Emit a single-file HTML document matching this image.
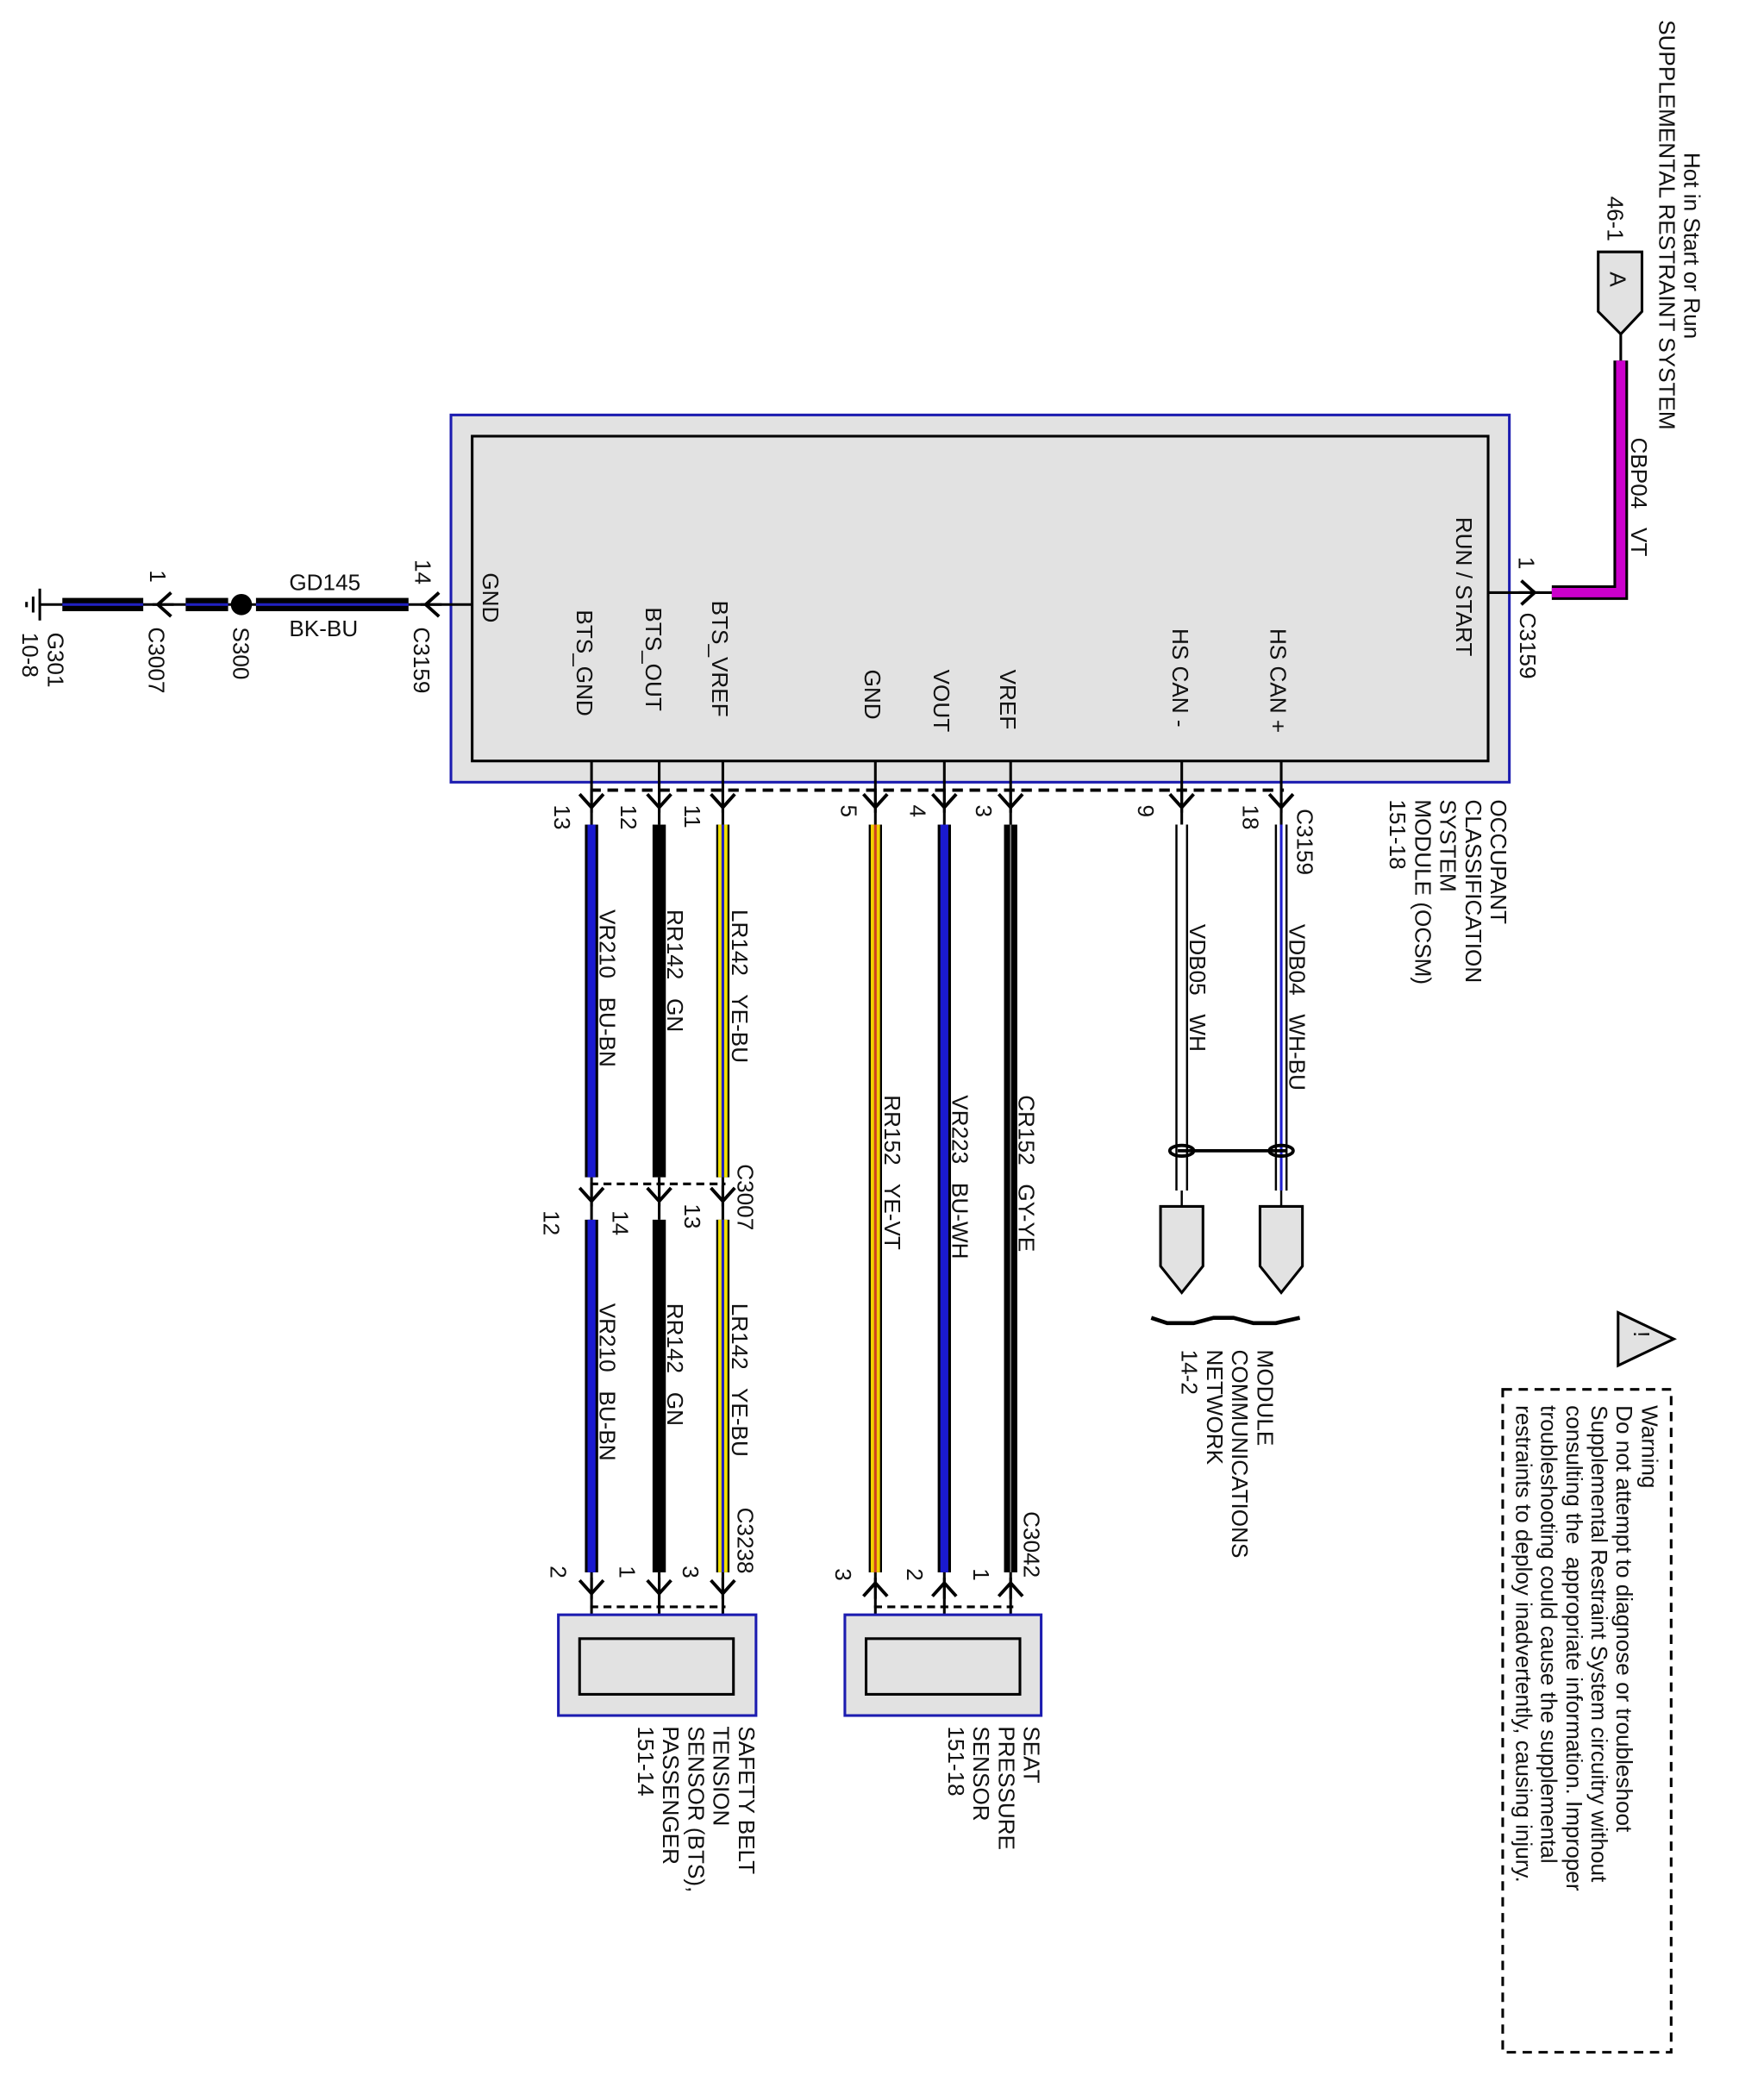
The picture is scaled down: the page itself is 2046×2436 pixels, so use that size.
<!DOCTYPE html>
<html><head><meta charset="utf-8"><style>
html,body{margin:0;padding:0;background:#fff;}
svg{display:block;}
text{font-family:"Liberation Sans",sans-serif;font-size:17px;fill:#111;white-space:pre;}
</style></head><body>
<svg width="2046" height="2436" viewBox="0 0 1330 1584" preserveAspectRatio="none" xmlns="http://www.w3.org/2000/svg">
<defs>
<g id="cd"><path d="M-9 -6 L0 4 L9 -6" fill="none" stroke="#000" stroke-width="2.5"/><line x1="0" y1="-8" x2="0" y2="8" stroke="#000" stroke-width="2"/></g>
<g id="cu"><path d="M-9 6 L0 -4 L9 6" fill="none" stroke="#000" stroke-width="2.5"/><line x1="0" y1="-8" x2="0" y2="8" stroke="#000" stroke-width="2"/></g>
</defs>

<!-- OCSM module -->
<rect x="340" y="313" width="798" height="277" fill="#e2e2e2" stroke="#1c1cb0" stroke-width="2"/>
<rect x="356" y="329" width="766" height="245" fill="#e2e2e2" stroke="#000" stroke-width="2"/>
<g>
<text transform="translate(364,432) rotate(90)">GND</text>
<text transform="translate(435,460) rotate(90)">BTS_GND</text>
<text transform="translate(487,458) rotate(90)">BTS_OUT</text>
<text transform="translate(537,453) rotate(90)">BTS_VREF</text>
<text transform="translate(652,505) rotate(90)">GND</text>
<text transform="translate(704,505) rotate(90)">VOUT</text>
<text transform="translate(754,505) rotate(90)">VREF</text>
<text transform="translate(884,474) rotate(90)">HS CAN -</text>
<text transform="translate(958,474) rotate(90)">HS CAN +</text>
<text transform="translate(1098,390) rotate(90)">RUN / START</text>
</g>

<g stroke="#000" stroke-width="2">
<line x1="446" y1="574" x2="446" y2="622"/><line x1="497" y1="574" x2="497" y2="622"/><line x1="545" y1="574" x2="545" y2="622"/>
<line x1="660" y1="574" x2="660" y2="622"/><line x1="712" y1="574" x2="712" y2="622"/><line x1="762" y1="574" x2="762" y2="622"/>
<line x1="891" y1="574" x2="891" y2="622"/><line x1="966" y1="574" x2="966" y2="622"/>
</g>
<line x1="445" y1="596" x2="968" y2="596" stroke="#000" stroke-width="2.5" stroke-dasharray="8,5"/>
<use href="#cd" x="446" y="605"/><use href="#cd" x="497" y="605"/><use href="#cd" x="545" y="605"/>
<use href="#cd" x="660" y="605"/><use href="#cd" x="712" y="605"/><use href="#cd" x="762" y="605"/>
<use href="#cd" x="891" y="605"/><use href="#cd" x="966" y="605"/>
<g>
<text transform="translate(418,607) rotate(90)">13</text>
<text transform="translate(468,607) rotate(90)">12</text>
<text transform="translate(516,607) rotate(90)">11</text>
<text transform="translate(634,607) rotate(90)">5</text>
<text transform="translate(686,607) rotate(90)">4</text>
<text transform="translate(736,607) rotate(90)">3</text>
<text transform="translate(858,607) rotate(90)">9</text>
<text transform="translate(937,607) rotate(90)">18</text>
<text transform="translate(978,610) rotate(90)">C3159</text>
<text transform="translate(1124,603) rotate(90)">OCCUPANT</text>
<text transform="translate(1105,603) rotate(90)">CLASSIFICATION</text>
<text transform="translate(1086,603) rotate(90)">SYSTEM</text>
<text transform="translate(1067,603) rotate(90)">MODULE (OCSM)</text>
<text transform="translate(1048,603) rotate(90)">151-18</text>
</g>

<g>
<rect x="441" y="622" width="10" height="266" fill="#000"/><rect x="443" y="622" width="6" height="266" fill="#1a1ad0"/>
<rect x="492" y="622" width="10" height="266" fill="#000"/>
<rect x="540" y="622" width="10" height="266" fill="#000"/><rect x="541.5" y="622" width="7" height="266" fill="#f0e000"/><rect x="544" y="622" width="2" height="266" fill="#2020c0"/>
<rect x="441" y="920" width="10" height="266" fill="#000"/><rect x="443" y="920" width="6" height="266" fill="#1a1ad0"/>
<rect x="492" y="920" width="10" height="266" fill="#000"/>
<rect x="540" y="920" width="10" height="266" fill="#000"/><rect x="541.5" y="920" width="7" height="266" fill="#f0e000"/><rect x="544" y="920" width="2" height="266" fill="#2020c0"/>
</g>
<g stroke="#000" stroke-width="2">
<line x1="446" y1="888" x2="446" y2="920"/><line x1="497" y1="888" x2="497" y2="920"/><line x1="545" y1="888" x2="545" y2="920"/>
<line x1="446" y1="1186" x2="446" y2="1236"/><line x1="497" y1="1186" x2="497" y2="1236"/><line x1="545" y1="1186" x2="545" y2="1236"/>
</g>
<line x1="445" y1="893" x2="547" y2="893" stroke="#000" stroke-width="2" stroke-dasharray="6,4"/>
<use href="#cd" x="446" y="902"/><use href="#cd" x="497" y="902"/><use href="#cd" x="545" y="902"/>
<use href="#cd" x="446" y="1198"/><use href="#cd" x="497" y="1198"/><use href="#cd" x="545" y="1198"/>
<line x1="445" y1="1212" x2="547" y2="1212" stroke="#000" stroke-width="2" stroke-dasharray="6,4"/>
<g>
<text transform="translate(452,686) rotate(90)">VR210   BU-BN</text>
<text transform="translate(503,686) rotate(90)">RR142   GN</text>
<text transform="translate(552,686) rotate(90)">LR142   YE-BU</text>
<text transform="translate(410,913) rotate(90)">12</text>
<text transform="translate(462,913) rotate(90)">14</text>
<text transform="translate(516,908) rotate(90)">13</text>
<text transform="translate(556,878) rotate(90)">C3007</text>
<text transform="translate(452,983) rotate(90)">VR210   BU-BN</text>
<text transform="translate(503,983) rotate(90)">RR142   GN</text>
<text transform="translate(552,983) rotate(90)">LR142   YE-BU</text>
<text transform="translate(556,1137) rotate(90)">C3238</text>
<text transform="translate(415,1181) rotate(90)">2</text>
<text transform="translate(467,1181) rotate(90)">1</text>
<text transform="translate(515,1181) rotate(90)">3</text>
</g>
<rect x="421" y="1218" width="149" height="76" fill="#e2e2e2" stroke="#1c1cb0" stroke-width="2"/>
<rect x="437" y="1236" width="116" height="42" fill="#e2e2e2" stroke="#000" stroke-width="2"/>
<g>
<text transform="translate(557,1302) rotate(90)">SAFETY BELT</text>
<text transform="translate(538,1302) rotate(90)">TENSION</text>
<text transform="translate(519,1302) rotate(90)">SENSOR (BTS),</text>
<text transform="translate(500,1302) rotate(90)">PASSENGER</text>
<text transform="translate(481,1302) rotate(90)">151-14</text>
</g>

<g>
<rect x="655" y="622" width="10" height="564" fill="#000"/><rect x="656.5" y="622" width="7" height="564" fill="#f0d000"/><rect x="659" y="622" width="2" height="564" fill="#d04020"/>
<rect x="707" y="622" width="10" height="564" fill="#000"/><rect x="709" y="622" width="6" height="564" fill="#1a1ad0"/>
<rect x="757" y="622" width="10" height="564" fill="#000"/><rect x="761.5" y="622" width="1" height="564" fill="#888"/>
</g>
<g stroke="#000" stroke-width="2">
<line x1="660" y1="1186" x2="660" y2="1236"/><line x1="712" y1="1186" x2="712" y2="1236"/><line x1="762" y1="1186" x2="762" y2="1236"/>
</g>
<use href="#cu" x="660" y="1198"/><use href="#cu" x="712" y="1198"/><use href="#cu" x="762" y="1198"/>
<line x1="659" y1="1212" x2="764" y2="1212" stroke="#000" stroke-width="2" stroke-dasharray="6,4"/>
<g>
<text transform="translate(667,826) rotate(90)">RR152   YE-VT</text>
<text transform="translate(718,826) rotate(90)">VR223   BU-WH</text>
<text transform="translate(768,826) rotate(90)">CR152   GY-YE</text>
<text transform="translate(772,1140) rotate(90)">C3042</text>
<text transform="translate(630,1183) rotate(90)">3</text>
<text transform="translate(684,1183) rotate(90)">2</text>
<text transform="translate(734,1183) rotate(90)">1</text>
</g>
<rect x="637" y="1218" width="148" height="76" fill="#e2e2e2" stroke="#1c1cb0" stroke-width="2"/>
<rect x="653" y="1236" width="116" height="42" fill="#e2e2e2" stroke="#000" stroke-width="2"/>
<g>
<text transform="translate(772,1302) rotate(90)">SEAT</text>
<text transform="translate(753,1302) rotate(90)">PRESSURE</text>
<text transform="translate(734,1302) rotate(90)">SENSOR</text>
<text transform="translate(715,1302) rotate(90)">151-18</text>
</g>

<g stroke="#000" stroke-width="1.6">
<line x1="887" y1="622" x2="887" y2="898"/><line x1="895" y1="622" x2="895" y2="898"/>
<line x1="962" y1="622" x2="962" y2="898"/><line x1="970" y1="622" x2="970" y2="898"/>
<line x1="891" y1="898" x2="891" y2="910"/><line x1="966" y1="898" x2="966" y2="910"/>
</g>
<line x1="966" y1="622" x2="966" y2="898" stroke="#2020d0" stroke-width="2"/>
<g stroke="#000" stroke-width="2.5" fill="none">
<line x1="888" y1="868" x2="970" y2="868"/>
<ellipse cx="891" cy="868" rx="9" ry="4"/><ellipse cx="966" cy="868" rx="9" ry="4"/>
</g>
<path d="M875 910 H907 V955 L891 975 L875 955 Z" fill="#e2e2e2" stroke="#000" stroke-width="2"/>
<path d="M950 910 H982 V955 L966 975 L950 955 Z" fill="#e2e2e2" stroke="#000" stroke-width="2"/>
<path d="M868 994 L880 998 L900 998 L915 994 L930 994 L945 998 L962 998 L980 994" fill="none" stroke="#000" stroke-width="3"/>
<g>
<text transform="translate(948,1018) rotate(90)">MODULE</text>
<text transform="translate(929,1018) rotate(90)">COMMUNICATIONS</text>
<text transform="translate(910,1018) rotate(90)">NETWORK</text>
<text transform="translate(891,1018) rotate(90)">14-2</text>
<text transform="translate(897,697) rotate(90)">VDB05   WH</text>
<text transform="translate(972,697) rotate(90)">VDB04   WH-BU</text>
</g>

<line x1="30" y1="456" x2="356" y2="456" stroke="#000" stroke-width="2"/>
<rect x="193" y="451" width="115" height="10" fill="#000"/><rect x="193" y="455" width="115" height="2" fill="#2020c0"/>
<rect x="140" y="451" width="32" height="10" fill="#000"/><rect x="140" y="455" width="32" height="2" fill="#2020c0"/>
<rect x="47" y="451" width="61" height="10" fill="#000"/><rect x="47" y="455" width="61" height="2" fill="#2020c0"/>
<circle cx="182" cy="456" r="8" fill="#000"/>
<g transform="translate(325,456) rotate(90)"><use href="#cd"/></g>
<g transform="translate(123,456) rotate(90)"><use href="#cd"/></g>
<g stroke="#000" stroke-width="2">
<line x1="30" y1="444" x2="30" y2="468"/><line x1="25" y1="450" x2="25" y2="462"/><line x1="20" y1="454" x2="20" y2="458"/>
</g>
<g>
<text transform="translate(313,422) rotate(90)">14</text>
<text transform="translate(312,473) rotate(90)">C3159</text>
<text x="218" y="445">GD145</text>
<text x="218" y="480">BK-BU</text>
<text transform="translate(176,473) rotate(90)">S300</text>
<text transform="translate(113,430) rotate(90)">1</text>
<text transform="translate(112,473) rotate(90)">C3007</text>
<text transform="translate(36,477) rotate(90)">G301</text>
<text transform="translate(17,477) rotate(90)">10-8</text>
</g>

<line x1="1122" y1="447" x2="1172" y2="447" stroke="#000" stroke-width="2"/>
<g transform="translate(1153,447) rotate(-90)"><use href="#cd"/></g>
<path d="M1170 447 H1222 V272" fill="none" stroke="#000" stroke-width="11"/>
<path d="M1170 447 H1222 V272" fill="none" stroke="#cc00cc" stroke-width="7"/>
<line x1="1222" y1="250" x2="1222" y2="272" stroke="#000" stroke-width="2"/>
<path d="M1205 190 H1238 V235 L1222 252 L1205 235 Z" fill="#e2e2e2" stroke="#000" stroke-width="2"/>
<g>
<text transform="translate(1214,205) rotate(90)">A</text>
<text transform="translate(1212,148) rotate(90)">46-1</text>
<text transform="translate(1145,420) rotate(90)">1</text>
<text transform="translate(1146,462) rotate(90)">C3159</text>
<text transform="translate(1230,330) rotate(90)">CBP04   VT</text>
<text transform="translate(1270,115) rotate(90)">Hot in Start or Run</text>
<text transform="translate(1251,15) rotate(90)">SUPPLEMENTAL RESTRAINT SYSTEM</text>
</g>

<path d="M1220 990 L1262 1010 L1220 1030 Z" fill="#e2e2e2" stroke="#000" stroke-width="2"/>
<text transform="translate(1232,1004) rotate(90)">!</text>
<rect x="1133" y="1048" width="127" height="500" fill="none" stroke="#000" stroke-width="2" stroke-dasharray="7,5"/>
<g>
<text transform="translate(1238,1060) rotate(90)">Warning</text>
<text transform="translate(1219,1060) rotate(90)">Do not attempt to diagnose or troubleshoot</text>
<text transform="translate(1200,1060) rotate(90)">Supplemental Restraint System circuitry without</text>
<text transform="translate(1181,1060) rotate(90)">consulting the  appropriate information. Improper</text>
<text transform="translate(1162,1060) rotate(90)">troubleshooting could cause the supplemental</text>
<text transform="translate(1143,1060) rotate(90)">restraints to deploy inadvertently, causing injury.</text>
</g>
</svg>
</body></html>
